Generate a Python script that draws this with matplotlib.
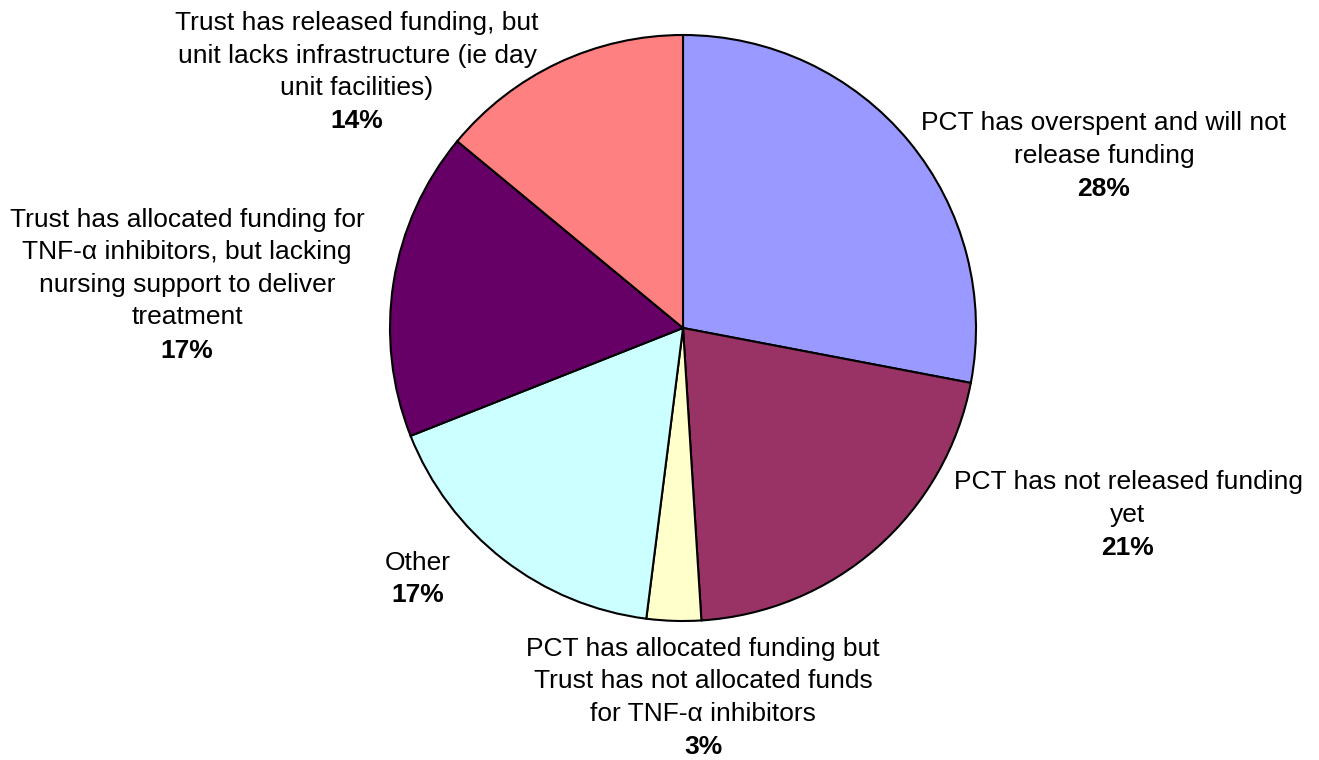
import matplotlib
matplotlib.use("Agg")
import matplotlib.pyplot as plt

# slice data, clockwise from 12 o'clock
labels = [
    "PCT has overspent and will not\nrelease funding",
    "PCT has not released funding\nyet",
    "PCT has allocated funding but\nTrust has not allocated funds\nfor TNF-\u03b1 inhibitors",
    "Other",
    "Trust has allocated funding for\nTNF-\u03b1 inhibitors, but lacking\nnursing support to deliver\ntreatment",
    "Trust has released funding, but\nunit lacks infrastructure (ie day\nunit facilities)",
]
shares = [28, 21, 3, 17, 17, 14]
colors = ["#9999FF", "#993366", "#FFFFCC", "#CCFFFF", "#660066", "#FF8080"]

# label block centres (pixel coords, y from top) - layout only
label_pos = [(1104, 156), (1128, 515), (703, 698), (418, 579), (187, 285), (357, 72)]

plt.rcParams["font.family"] = ["Liberation Sans", "DejaVu Sans"]

W, H = 1319, 760
fig = plt.figure(figsize=(W / 100, H / 100), dpi=100)
ax = fig.add_axes([0, 0, 1, 1])

ax.pie(shares, colors=colors, startangle=90, counterclock=False,
       center=(683, H - 328), radius=293, frame=True,
       wedgeprops=dict(edgecolor="black", linewidth=1.5))
ax.set_xlim(0, W)
ax.set_ylim(0, H)
ax.set_aspect("auto")
ax.axis("off")

fs = 19
line_h = 33
for lab, val, (x, y) in zip(labels, shares, label_pos):
    nlines = lab.count("\n") + 1
    first = y - nlines * line_h / 2  # centre of first line
    txt_c = first + (nlines - 1) * line_h / 2
    ax.text(x, H - txt_c, lab, ha="center", va="center", fontsize=fs,
            linespacing=1.43)
    ax.text(x, H - (first + nlines * line_h), "%d%%" % val, ha="center",
            va="center", fontsize=fs, fontweight="bold")

fig.savefig("out.png", dpi=100)
